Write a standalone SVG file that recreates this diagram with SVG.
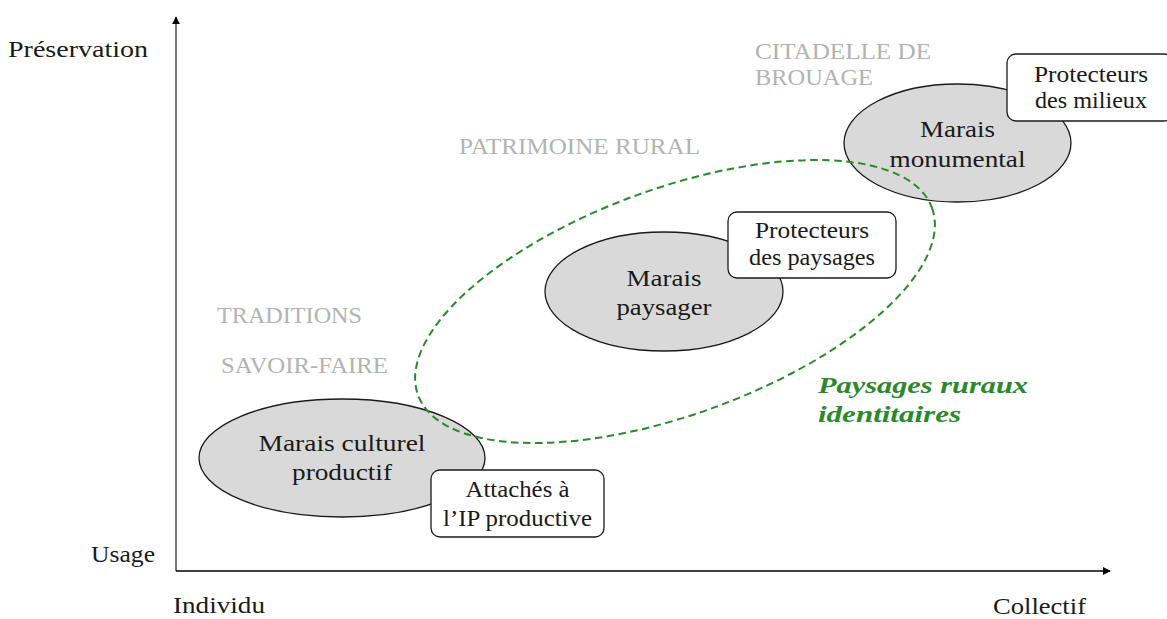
<svg xmlns="http://www.w3.org/2000/svg" width="1167" height="619" viewBox="0 0 1167 619" font-family="Liberation Serif, Times New Roman, Tinos, DejaVu Serif, serif">
<defs>
<style>
text{font-family:'Liberation Serif','Times New Roman',Tinos,'DejaVu Serif',serif;font-size:24px;fill:#1a1a1a}
.c{text-anchor:middle}
.g{fill:#b3b3b3}
.grn{fill:#2a8a2a;font-weight:bold;font-style:italic}
.node{fill:#d9d9d9;stroke:#1a1a1a;stroke-width:1.3}
.box{fill:#ffffff;stroke:#1a1a1a;stroke-width:1.3}
</style>
<marker id="ah" viewBox="0 0 10 10" refX="9" refY="5" markerWidth="8" markerHeight="8" markerUnits="userSpaceOnUse" orient="auto">
<path d="M0,0 L10,5 L0,10 Z" fill="#000"/>
</marker>
</defs>
<rect width="1167" height="619" fill="#fff"/>
<g id="axes">
<line x1="176" y1="571" x2="176" y2="17" stroke="#555" stroke-width="1.6" marker-end="url(#ah)"/>
<line x1="176" y1="571" x2="1110" y2="571" stroke="#000" stroke-width="1.3" marker-end="url(#ah)"/>
<text font-family="Liberation Serif, serif" x="8" y="57" textLength="140" lengthAdjust="spacingAndGlyphs">Préservation</text>
<text font-family="Liberation Serif, serif" x="91" y="562" textLength="64" lengthAdjust="spacingAndGlyphs">Usage</text>
<text font-family="Liberation Serif, serif" x="173" y="613" textLength="92" lengthAdjust="spacingAndGlyphs">Individu</text>
<text font-family="Liberation Serif, serif" x="993" y="614" textLength="93" lengthAdjust="spacingAndGlyphs">Collectif</text>
</g>
<g id="labels">
<text class="g" x="755" y="59" textLength="176" lengthAdjust="spacingAndGlyphs">CITADELLE DE</text>
<text class="g" x="755" y="85" textLength="118" lengthAdjust="spacingAndGlyphs">BROUAGE</text>
<text class="g" x="459" y="154" textLength="241" lengthAdjust="spacingAndGlyphs">PATRIMOINE RURAL</text>
<text class="g" x="217" y="323" textLength="145" lengthAdjust="spacingAndGlyphs">TRADITIONS</text>
<text class="g" x="221" y="373" textLength="167" lengthAdjust="spacingAndGlyphs">SAVOIR-FAIRE</text>
</g>
<g id="node-culturel">
<ellipse class="node" cx="342" cy="458" rx="143" ry="59"/>
<text class="c" x="342" y="451" textLength="167" lengthAdjust="spacingAndGlyphs">Marais culturel</text>
<text class="c" x="342" y="480" textLength="100" lengthAdjust="spacingAndGlyphs">productif</text>
</g>
<g id="node-paysager">
<ellipse class="node" cx="664" cy="291.5" rx="119" ry="59.5"/>
<text class="c" x="664" y="286" textLength="75" lengthAdjust="spacingAndGlyphs">Marais</text>
<text class="c" x="664" y="315" textLength="95" lengthAdjust="spacingAndGlyphs">paysager</text>
</g>
<g id="node-monumental">
<ellipse class="node" cx="957.5" cy="143" rx="113.5" ry="59"/>
<text class="c" x="957.5" y="137" textLength="75" lengthAdjust="spacingAndGlyphs">Marais</text>
<text class="c" x="957.5" y="167" textLength="136" lengthAdjust="spacingAndGlyphs">monumental</text>
</g>
<g id="connectors">
<ellipse cx="675" cy="301.5" rx="273.5" ry="113" transform="rotate(-20 675 301.5)" fill="none" stroke="#2a8a2a" stroke-width="2" stroke-dasharray="7.5 4.5"/>
</g>
<g id="group-label">
<text class="grn" x="818" y="393" textLength="210" lengthAdjust="spacingAndGlyphs">Paysages ruraux</text>
<text class="grn" x="818" y="422" textLength="143" lengthAdjust="spacingAndGlyphs">identitaires</text>
</g>
<g id="box-attaches">
<rect class="box" x="431" y="470" width="173" height="67" rx="9"/>
<text class="c" x="517.5" y="497" textLength="104" lengthAdjust="spacingAndGlyphs">Attachés à</text>
<text class="c" x="517.5" y="526" textLength="149" lengthAdjust="spacingAndGlyphs">l’IP productive</text>
</g>
<g id="box-paysages">
<rect class="box" x="728" y="212" width="168" height="66" rx="9"/>
<text class="c" x="812" y="238" textLength="114" lengthAdjust="spacingAndGlyphs">Protecteurs</text>
<text class="c" x="812" y="265" textLength="126" lengthAdjust="spacingAndGlyphs">des paysages</text>
</g>
<g id="box-milieux">
<rect class="box" x="1007" y="54" width="166" height="67" rx="9"/>
<text class="c" x="1091" y="82" textLength="114" lengthAdjust="spacingAndGlyphs">Protecteurs</text>
<text class="c" x="1091" y="108" textLength="112" lengthAdjust="spacingAndGlyphs">des milieux</text>
</g>
</svg>
